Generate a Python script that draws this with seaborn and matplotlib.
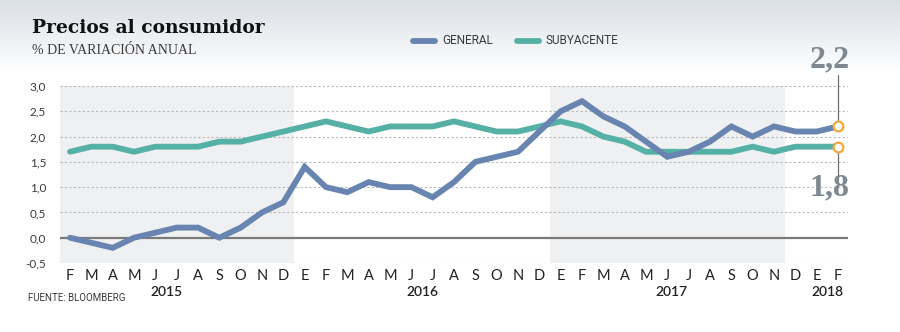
import numpy as np
import pandas as pd
import matplotlib
matplotlib.use("Agg")
import matplotlib.pyplot as plt
import seaborn as sns

# Monthly labels, Feb 2015 .. Feb 2018
months = ["F", "M", "A", "M", "J", "J", "A", "S", "O", "N", "D",
          "E", "F", "M", "A", "M", "J", "J", "A", "S", "O", "N", "D",
          "E", "F", "M", "A", "M", "J", "J", "A", "S", "O", "N", "D",
          "E", "F"]
years = ["2015", "2016", "2017", "2018"]
year_pos = [4.5, 16.5, 28.2, 35.5]

general = [0.0, -0.1, -0.2, 0.0, 0.1, 0.2, 0.2, 0.0, 0.2, 0.5, 0.7,
           1.4, 1.0, 0.9, 1.1, 1.0, 1.0, 0.8, 1.1, 1.5, 1.6, 1.7, 2.1,
           2.5, 2.7, 2.4, 2.2, 1.9, 1.6, 1.7, 1.9, 2.2, 2.0, 2.2, 2.1,
           2.1, 2.2]
subyacente = [1.7, 1.8, 1.8, 1.7, 1.8, 1.8, 1.8, 1.9, 1.9, 2.0, 2.1,
              2.2, 2.3, 2.2, 2.1, 2.2, 2.2, 2.2, 2.3, 2.2, 2.1, 2.1, 2.2,
              2.3, 2.2, 2.0, 1.9, 1.7, 1.7, 1.7, 1.7, 1.7, 1.8, 1.7, 1.8,
              1.8, 1.8]
yticks = [-0.5, 0.0, 0.5, 1.0, 1.5, 2.0, 2.5, 3.0]
ytick_labels = ["-0,5", "0,0", "0,5", "1,0", "1,5", "2,0", "2,5", "3,0"]

BLUE = "#6884b0"
TEAL = "#55b1a6"
ORANGE = "#f3a83a"
NUMGRAY = "#7e8891"
TXT = "#3a3a3a"

sns.set_theme(style="white")
plt.rcParams["font.family"] = ["Lato", "DejaVu Sans"]

df = pd.DataFrame({
    "idx": list(range(len(months))) * 2,
    "valor": general + subyacente,
    "serie": ["GENERAL"] * len(general) + ["SUBYACENTE"] * len(subyacente),
})

fig = plt.figure(figsize=(9.0, 3.32), dpi=100)

# header gradient background
bg = fig.add_axes([0, 0, 1, 1], zorder=-10)
H = 332
rows = np.arange(H)
t = np.clip(rows / 72.0, 0, 1)
top = np.array([0.855, 0.875, 0.902])
col = top[None, :] * (1 - t[:, None]) + np.ones(3)[None, :] * t[:, None]
img = np.repeat(col[:, None, :], 10, axis=1)
bg.imshow(img, aspect="auto", extent=[0, 1, 0, 1], origin="upper")
bg.set_axis_off()

ax = fig.add_axes([60 / 900, 1 - 263 / 332, 788 / 900, (263 - 86) / 332])
ax.set_facecolor("none")

# alternating year shading
for a, b in [(-0.5, 10.5), (22.5, 33.5)]:
    ax.axvspan(a, b, color="#eff0f2", zorder=0, lw=0)

for y in yticks:
    if y == 0:
        ax.axhline(0, color="#7a7a7a", lw=1.6, zorder=1)
    else:
        ax.axhline(y, color="#b8b8b8", lw=0.8, ls=(0, (2, 2)), zorder=1)

sns.lineplot(data=df, x="idx", y="valor", hue="serie",
             palette={"GENERAL": BLUE, "SUBYACENTE": TEAL},
             hue_order=["SUBYACENTE", "GENERAL"],
             lw=4.2, legend=False, ax=ax, zorder=3,
             solid_capstyle="round", solid_joinstyle="miter")

ax.set_xlim(-0.47, 36.47)
ax.set_ylim(-0.5, 3.0)
ax.set_xticks(range(len(months)))
ax.set_xticklabels(months, fontsize=10.5, color="#222222")
ax.set_yticks(yticks)
ax.set_yticklabels(ytick_labels, fontsize=8.5, color=TXT)
ax.tick_params(axis="both", length=0, pad=4)
ax.tick_params(axis="y", pad=10)
ax.set_xlabel("")
ax.set_ylabel("")
for s in ax.spines.values():
    s.set_visible(False)

trans = ax.get_xaxis_transform()
for yr, xp in zip(years, year_pos):
    ax.text(xp, -0.165, yr, transform=trans, ha="center", va="center",
            fontsize=10, color="#222222", fontweight="semibold")

# last-value callouts
last = len(months) - 1
ax.plot([last, last], [general[-1], 3.21], color="#6f6f6f", lw=0.9,
        zorder=2, clip_on=False)
ax.plot([last, last], [subyacente[-1], 1.25], color="#6f6f6f", lw=0.9,
        zorder=2, clip_on=False)
for v in (general[-1], subyacente[-1]):
    ax.plot([last], [v], marker="o", ms=7, mfc="white", mec=ORANGE,
            mew=1.6, zorder=5, clip_on=False)
ax.text(35.62, 3.52, f"{general[-1]:.1f}".replace(".", ","), ha="center",
        va="center", fontsize=23, fontweight="bold", color=NUMGRAY,
        family="Liberation Serif", clip_on=False)
ax.text(35.62, 0.99, f"{subyacente[-1]:.1f}".replace(".", ","), ha="center",
        va="center", fontsize=23, fontweight="bold", color=NUMGRAY,
        family="Liberation Serif", clip_on=False)

# titles
fig.text(32 / 900, 1 - 28 / 332, "Precios al consumidor", ha="left",
         va="center", fontsize=13.4, fontweight="bold", color="#111111",
         family="DejaVu Serif")
fig.text(32 / 900, 1 - 51 / 332, "% DE VARIACIÓN ANUAL", ha="left",
         va="center", fontsize=10, color=TXT, family="Liberation Serif")

# legend
ly = 1 - 41 / 332
for x0, c, lab in [(413, BLUE, "GENERAL"), (517, TEAL, "SUBYACENTE")]:
    fig.add_artist(plt.Line2D([x0 / 900, (x0 + 22) / 900], [ly, ly], color=c,
                              lw=4.2, solid_capstyle="round"))
    fig.text((x0 + 29) / 900, ly, lab, ha="left", va="center", fontsize=8.5,
             color=TXT, family="Roboto")

fig.text(28 / 900, 1 - 298 / 332, "FUENTE: BLOOMBERG", ha="left",
         va="center", fontsize=7, color=TXT, family="Roboto")

fig.savefig("out.png", dpi=100)
